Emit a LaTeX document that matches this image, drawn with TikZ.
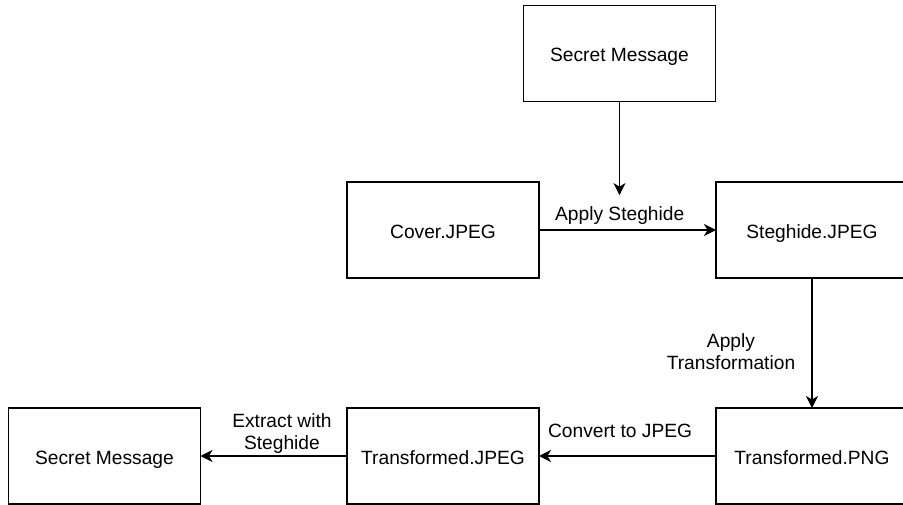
\documentclass[tikz,border=0pt]{standalone}
\usepackage{fontspec}
\setmainfont{Liberation Sans}
\usetikzlibrary{arrows.meta, positioning}

\begin{document}
\begin{tikzpicture}[x=1pt, y=-1pt, line width=1.6pt, font=\fontsize{19.2}{22}\selectfont,
        main/.style = {draw, rectangle, minimum width=192pt, minimum height=96pt, outer sep=0pt,
            text height=16.6pt, text depth=0pt},
        lbl/.style = {inner sep=0pt, align=center},
        >={Stealth[length=12pt, width=12pt, inset=3.5pt]}]
            \useasboundingbox (0,0) rectangle (903,505);
            \node[main] (C) at (443,230) {Cover.JPEG};
            \node[main] (S) [right=177pt of C] {Steghide.JPEG};
            \node[main] (M) [above=80.5pt of C, xshift=176.5pt] {Secret Message};
            \node[main] (P) [below=130pt of S] {Transformed.PNG};
            \node[main] (J) [left=177pt of P] {Transformed.JPEG};
            \node[main] (R) [left=146.5pt of J] {Secret Message};

            \path[->] (C) edge node[lbl, pos=0.456, above=5pt] (A) {Apply Steghide} (S);
            \path[->, shorten >=10.4pt] (M) edge (M |- A.north);
            \path[->] (S) edge node[lbl, pos=0.565, left=16pt] {Apply\\Transformation} (P);
            \path[->] (P) edge node[lbl, pos=0.542, above=17.4pt] {Convert to JPEG} (J);
            \path[->] (J) edge node[lbl, pos=0.444, above=2pt] {Extract with\\Steghide} (R);
        \end{tikzpicture}
\end{document}
